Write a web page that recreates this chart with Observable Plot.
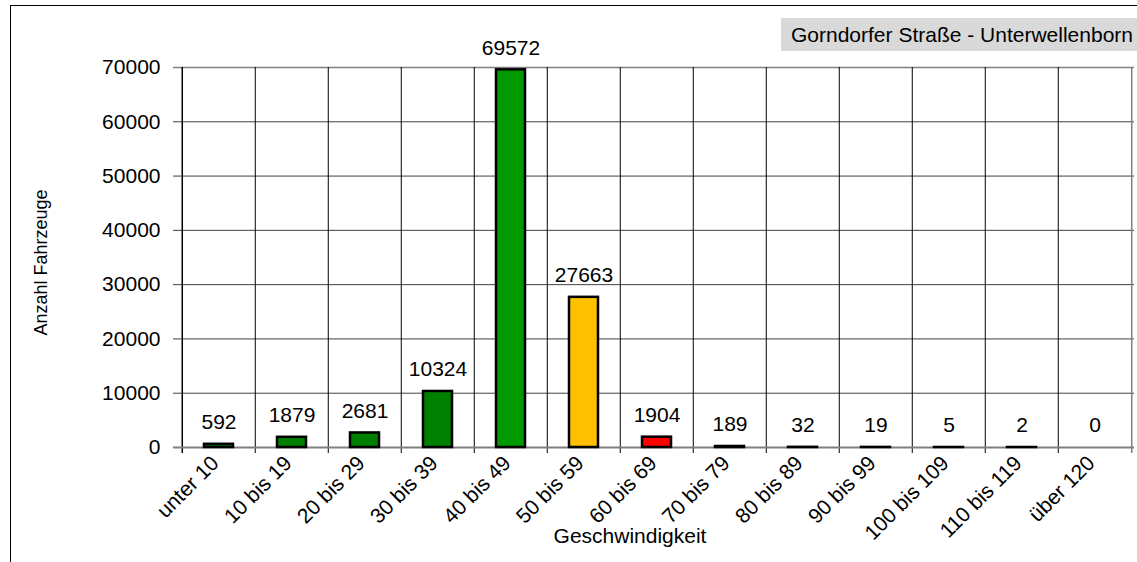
<!DOCTYPE html>
<html>
<head>
<meta charset="utf-8">
<script src="https://cdn.jsdelivr.net/npm/d3@7"></script>
<script src="https://cdn.jsdelivr.net/npm/@observablehq/plot@0.6"></script>
<style>
  body { margin: 0; background: #fff; font-family: "Liberation Sans", Arial, sans-serif; }
  #wrap { position: relative; width: 1137px; height: 562px; overflow: hidden; }
  #border { position: absolute; left: 10px; top: 5px; width: 2000px; height: 2000px; border-left: 1px solid #000; border-top: 1px solid #000; box-sizing: border-box; }
  #title { position: absolute; left: 781px; top: 18px; width: 400px; height: 33px; background: #d9d9d9; font-size: 21px; line-height: 33px; padding-left: 10px; box-sizing: border-box; color: #000; }
  #chart { position: absolute; left: 0; top: 0; }
</style>
</head>
<body>
<div id="wrap">
  <div id="border"></div>
  <div id="chart"></div>
  <div id="title">Gorndorfer Straße - Unterwellenborn</div>
</div>
<script>
const categories = ["unter 10", "10 bis 19", "20 bis 29", "30 bis 39", "40 bis 49", "50 bis 59", "60 bis 69", "70 bis 79", "80 bis 89", "90 bis 99", "100 bis 109", "110 bis 119", "über 120"];
const counts = [592, 1879, 2681, 10324, 69572, 27663, 1904, 189, 32, 19, 5, 2, 0];
const yTicks = [0, 10000, 20000, 30000, 40000, 50000, 60000, 70000];
const barColors = ["#008000", "#008000", "#008000", "#008000", "#009900", "#FFC000", "#FF0000", "#000000", "#000000", "#000000", "#000000", "#000000", "#000000"];

const data = categories.map((c, i) => ({category: c, count: counts[i]}));

const W = 1137, H = 562, mL = 179, mR = 3, mT = 67, mB = 115;
const step = (W - mL - mR) / categories.length;
const font = "'Liberation Sans', Arial, sans-serif";

const chart = Plot.plot({
  width: W, height: H,
  marginLeft: mL, marginRight: mR, marginTop: mT, marginBottom: mB,
  style: {fontFamily: font, fontSize: "21px", background: "transparent", color: "#000"},
  x: {domain: categories, paddingInner: 0.6, paddingOuter: 0.3, axis: null, label: null},
  y: {domain: [0, 70000], axis: null, label: null},
  color: {domain: categories, range: barColors},
  marks: [
    Plot.ruleY(yTicks.slice(1, -1), {y: d => d, stroke: "#404040", strokeWidth: 1, insetLeft: -6}),
    Plot.ruleY([70000], {stroke: "#808080", strokeWidth: 1.5, insetLeft: -6}),
    Plot.ruleX(categories.slice(1), {x: d => d, dx: -step / 2, stroke: "#000", strokeWidth: 1, insetBottom: -6}),
    Plot.ruleX([categories[categories.length - 1]], {x: d => d, dx: step / 2, stroke: "#808080", strokeWidth: 1.5, insetBottom: -6}),
    Plot.ruleX([categories[0]], {x: d => d, dx: -step / 2, stroke: "#000", strokeWidth: 1.5, insetBottom: -6}),
    Plot.ruleY([0], {stroke: "#808080", strokeWidth: 2, insetLeft: -6}),
    Plot.barY(data, {x: "category", y: "count", fill: d => d.category, stroke: "#000", strokeWidth: 2.5}),
    Plot.text(data, {x: "category", y: "count", text: d => String(d.count), dy: -22, fontSize: 21, fill: "#000"}),
    Plot.text(yTicks, {y: d => d, frameAnchor: "left", textAnchor: "end", dx: -19, text: d => String(d), fontSize: 21, fill: "#000"}),
    Plot.text(categories, {x: d => d, frameAnchor: "bottom", rotate: -45, textAnchor: "end", dx: 1, dy: 17, text: d => d, fontSize: 21, fill: "#000"}),
    Plot.text(["Anzahl Fahrzeuge"], {frameAnchor: "left", textAnchor: "middle", rotate: -90, dx: -138, dy: 5, text: d => d, fontSize: 18, fill: "#000"}),
    Plot.text(["Geschwindigkeit"], {frameAnchor: "bottom", textAnchor: "middle", dx: -27, dy: 95, text: d => d, fontSize: 21, fill: "#000"})
  ]
});
document.getElementById("chart").appendChild(chart);
</script>
</body>
</html>
